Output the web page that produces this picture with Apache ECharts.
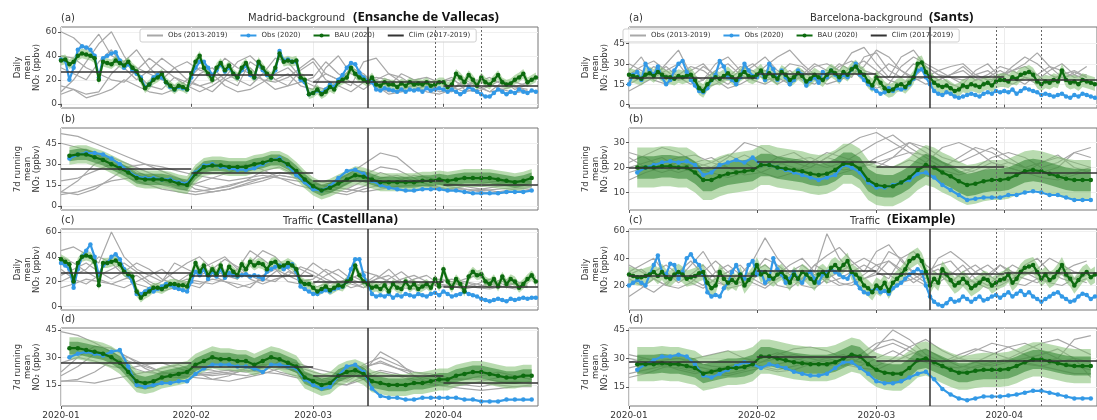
<!DOCTYPE html>
<html>
<head>
<meta charset="utf-8">
<script src="https://cdn.jsdelivr.net/npm/echarts@6/dist/echarts.min.js"></script>
<style>
  html, body { margin: 0; padding: 0; background: #fff; }
  #chart { width: 1097px; height: 420px; }
</style>
</head>
<body>
<div id="chart"></div>
<script>
// x is "days since 2020-01-01"
const monthStartDays = [0, 31, 60, 91];
const monthLabels = ['2020-01', '2020-02', '2020-03', '2020-04'];
const climBreaks = [0, 31, 60, 91, 113.5];
const eventDays = [73, 89, 100]; // 14 Mar (solid), 30 Mar and 10 Apr (dashed)

// ---- Madrid background, daily (a, left) ----
const madBgDailyBau = [
  36,37,33,35,40,42,41,40,38,20,35,34,33,36,34,32,35,30,27,20,13,16,20,22,25,18,15,12,15,14,12,
  25,35,40,30,25,20,30,34,28,32,25,22,30,34,26,22,35,30,25,22,30,42,35,36,35,36,22,20,8,
  9,12,8,10,14,12,18,20,22,30,25,22,20,18,22,16,15,18,16,16,14,17,15,18,16,17,16,18,15,16,18,
  18,14,16,25,22,18,24,20,15,22,18,16,20,24,18,16,17,20,22,25,18,20,22];
const madBgDailyObs = [
  37,36,20,30,45,48,47,45,40,22,38,40,42,43,36,30,33,28,25,22,14,16,22,24,22,18,14,12,14,13,12,
  22,30,35,35,30,24,28,33,27,30,25,22,28,32,24,22,34,28,24,22,28,44,36,37,35,35,20,18,8,
  9,11,9,12,16,14,20,24,30,34,33,26,22,19,18,12,11,13,12,11,10,12,10,12,11,12,10,13,11,12,13,
  12,10,12,10,8,10,14,12,10,8,6,6,9,12,10,8,10,9,12,10,9,11,10];
const madBgDailyGrey = [
  [60,55,45,58,40,35,30,25,20,30,35,28,25,38,30,25,20,18,22,30,38,25,20,28,22,18,15,25,20,22,18,20,15,18,22,16,14,18],
  [15,12,8,10,25,35,45,30,20,15,12,25,30,20,15,35,28,20,25,15,12,30,40,25,20,15,10,12,15,18,12,10,14,20,16,12,15,10],
  [10,20,35,50,60,40,25,15,12,22,18,15,10,20,25,30,20,12,15,18,22,35,25,18,12,20,25,22,15,10,8,12,20,15,10,18,14,12],
  [40,38,30,25,20,18,28,38,30,22,15,10,15,22,35,40,30,20,15,28,35,20,15,10,18,22,20,12,16,14,18,22,12,10,15,20,12,16],
  [8,12,5,8,12,20,15,10,8,12,20,30,25,15,10,12,18,25,30,20,15,12,18,30,25,15,8,10,12,15,10,12,18,14,10,12,9,11],
  [30,25,20,35,45,30,20,28,38,30,20,15,18,25,20,15,25,38,35,22,18,25,20,15,35,38,25,18,20,16,12,14,10,12,16,14,18,15]];
const madBgDailyClim = [27, 24, 18, 15];

// ---- Madrid background, 7-day running mean (b, left), every 2nd day from day 2 ----
const madBgRunBau = [
  36,37,37,35,33,30,27,24,20,19, 19,19,18,16,15,23,28,29,29,28,
  28,28,30,31,33,33,30,25,19,14, 11,13,16,19,22,21,19,17,17,17,
  17,17,18,18,19,18,19,20,20,20, 20,19,18,17,18,20];
const madBgRunObs = [
  34,37,38,38,37,34,30,25,21,20, 20,19,19,17,16,24,29,30,28,27,
  26,26,27,30,33,34,29,22,17,12, 11,14,20,25,26,23,18,15,13,12,
  11,11,12,12,12,11,11,10,9,9, 9,9,10,10,10,11];
const madBgRunGrey = [
  [52,50,45,40,35,30,28,25,22,20,18,20,22,20,18,16,14,12,10,12,14,15,14,12,12,11,12,13,14],
  [10,18,30,35,30,25,20,18,15,12,14,18,20,22,20,18,16,22,30,38,35,25,18,14,12,10,9,10,12],
  [10,8,12,20,28,30,25,20,12,10,12,16,20,24,22,18,12,10,14,20,22,18,15,12,14,16,18,16,14],
  [45,42,38,30,25,20,15,12,10,12,15,18,25,28,22,16,14,12,18,24,20,16,18,16,15,14,16,18,17],
  [18,20,25,30,28,22,18,14,16,20,24,30,26,20,15,12,10,16,22,28,26,20,14,12,10,12,14,15,16],
  [8,10,14,18,20,16,12,10,8,10,12,15,18,22,20,15,10,8,12,15,18,22,20,16,14,12,10,12,13]];
const madBgRunClim = [27, 24, 18, 15];

// ---- Madrid traffic, daily (c, left) ----
const madTrDailyBau = [
  38,36,34,20,35,40,41,40,36,17,35,35,36,37,34,28,26,24,12,7,10,12,15,15,14,16,18,18,17,17,16,
  25,35,28,33,25,30,26,33,25,32,28,25,34,30,36,33,35,34,30,35,36,32,33,35,33,30,20,18,18,
  15,12,14,16,13,15,17,16,20,22,33,25,20,18,15,16,14,17,12,18,15,14,20,15,18,14,16,18,15,22,16,
  30,20,15,22,18,12,24,28,25,26,20,18,22,16,24,18,22,20,15,18,22,25,20];
const madTrDailyObs = [
  35,33,30,15,30,40,45,50,40,25,33,35,40,42,38,30,25,20,10,10,12,14,12,14,16,18,17,15,14,13,12,
  20,28,25,30,22,28,24,30,23,27,25,24,25,26,24,25,24,22,28,30,32,33,30,32,34,28,16,14,12,
  10,10,12,13,12,14,15,16,20,30,38,38,25,18,10,8,9,8,10,7,9,8,10,9,8,10,9,8,10,11,9,
  12,10,8,9,10,12,10,9,8,6,5,4,5,6,5,4,6,5,6,7,6,7,7];
const madTrDailyGrey = [
  [45,48,42,35,60,40,30,25,20,28,35,40,30,25,22,35,45,40,30,22,18,25,30,22,28,25,20,18,22,25,18,16,20,18,15,20,18,16],
  [20,25,30,40,35,25,18,15,20,35,30,25,30,38,32,25,20,28,35,30,25,20,18,25,20,16,22,28,20,18,22,20,16,18,22,18,15,17],
  [30,22,18,25,30,35,28,20,15,18,22,20,18,22,30,45,38,30,25,20,22,30,25,18,15,20,18,22,25,20,15,18,22,25,20,16,18,15],
  [15,18,22,20,18,22,25,18,12,15,20,18,22,20,18,15,25,30,20,18,15,18,20,22,18,25,20,15,14,16,20,22,18,15,14,16,18,20],
  [25,30,35,28,22,28,35,30,22,18,25,30,35,40,30,22,18,22,25,32,28,22,18,20,15,22,25,18,16,20,16,18,20,16,18,22,20,18],
  [40,35,28,22,18,15,20,25,30,22,18,15,25,20,15,18,22,20,28,25,35,28,20,15,18,22,30,20,18,15,18,16,14,16,18,16,14,16]];
const madTrDailyClim = [27, 25, 20, 16];

// ---- Madrid traffic, 7-day running mean (d, left) ----
const madTrRunBau = [
  35,35,34,33,32,30,27,22,17,16, 17,19,20,21,22,26,28,30,29,29,
  28,28,26,28,30,29,27,25,19,17, 15,16,20,22,23,21,17,16,15,15,
  15,16,16,17,18,18,20,21,22,22, 21,20,19,19,20,20];
const madTrRunObs = [
  30,32,33,32,31,33,34,25,15,14, 15,16,16,17,17,21,24,26,26,26,
  25,25,24,22,26,26,25,24,18,15, 13,14,20,25,26,22,13,9,8,8,
  7,7,8,8,8,8,8,7,7,6, 6,6,7,7,7,7];
const madTrRunGrey = [
  [44,42,38,33,28,25,22,20,21,22,23,22,24,26,25,22,20,18,24,28,24,20,18,17,16,16,15,14,14],
  [20,25,32,30,25,22,21,22,24,23,21,20,22,28,27,24,22,20,26,30,26,22,20,18,18,20,22,20,18],
  [17,18,22,28,30,26,22,20,19,18,20,24,26,25,22,20,18,17,22,33,28,20,16,14,15,17,19,20,18],
  [22,30,36,35,30,24,20,19,20,21,22,24,25,22,20,18,17,19,25,27,24,22,21,19,18,18,17,16,17],
  [27,30,28,25,24,26,27,24,21,20,21,23,22,21,19,18,16,15,20,23,21,18,17,16,15,14,16,17,16],
  [17,17,16,18,20,22,24,26,22,18,17,19,21,24,23,20,16,15,18,22,20,17,15,14,13,12,13,14,15]];
const madTrRunClim = [27, 25, 20, 16];

// ---- Barcelona background, daily (a, right) ----
const bcnBgDailyBau = [
  22,21,20,19,22,23,21,24,22,20,20,19,21,20,21,22,18,12,10,15,18,20,19,21,23,20,18,22,24,21,20,
  22,25,20,23,21,19,24,22,18,20,23,21,17,19,22,20,18,22,25,23,20,24,22,26,28,24,22,17,14,
  20,16,12,10,11,14,15,13,16,20,30,31,24,20,16,14,13,14,12,10,11,14,13,15,14,13,15,16,14,17,18,
  18,17,20,19,22,23,24,22,17,15,17,16,18,17,25,18,16,17,15,18,17,16,15];
const bcnBgDailyObs = [
  15,22,24,18,30,25,22,28,20,15,18,25,30,32,24,18,14,10,9,12,18,22,32,28,20,18,15,20,30,25,21,
  20,24,18,30,26,18,25,20,15,18,25,22,14,18,20,16,24,20,25,22,18,22,20,26,30,22,18,15,12,
  10,8,9,12,10,12,11,12,15,19,25,26,20,15,10,8,7,9,8,6,5,6,7,8,7,6,8,9,8,10,9,
  10,9,11,8,10,12,11,10,9,7,8,7,6,7,8,6,5,7,6,8,7,6,5];
const bcnBgDailyGrey = [
  [25,35,20,30,40,22,18,30,35,25,20,28,35,40,30,22,18,25,38,42,30,20,35,40,28,22,20,15,25,30,20,28,35,30,22,18,24,20],
  [15,20,28,22,18,25,30,20,15,22,28,35,25,18,20,28,30,25,20,35,38,25,20,30,25,18,22,28,20,15,22,25,30,38,28,20,15,18],
  [30,25,18,15,22,28,25,18,12,15,20,25,22,30,28,20,15,18,22,28,40,35,25,20,15,18,22,25,18,20,25,20,15,22,28,25,20,22],
  [20,18,22,28,20,15,18,25,30,22,18,15,20,25,18,15,22,30,25,18,12,15,28,35,30,25,20,18,22,25,18,15,20,18,25,30,22,18],
  [10,15,20,25,30,18,12,15,20,28,25,18,20,15,22,30,25,20,28,32,25,18,15,20,28,22,15,12,18,22,28,25,20,15,18,22,25,20],
  [22,28,32,25,18,20,28,22,18,25,30,22,15,20,25,18,20,28,32,25,22,30,25,18,20,25,28,30,22,18,20,25,28,22,15,20,22,28]];
const bcnBgDailyClim = [20, 22.5, 20.5, 18];

// ---- Barcelona background, 7-day running mean (b, right) ----
const bcnBgRunBau = [
  20,20,20,20.5,20.5,20,20,18,15,15, 16.5,17.5,18,18.5,19,21,21,20,19.5,19,
  18.5,17.5,17,17.5,19,21.5,21.5,19.5,15,13, 12.5,12.5,14,16,19,21,20,18,16.5,14.5,
  13,13.5,14.5,15,15,15.5,17,18.5,19,18.5, 17.5,16.5,15.5,15,15,15];
const bcnBgRunObs = [
  18,20,21,22,22.5,22,22.5,21,17,18, 21,22,23,22,24,21,21,20,19,18,
  17,16,15,16,17,21,20,18,14,12, 12,13,14,15,17.5,18,16,13,11,9,
  7,7.5,8,8,8,9,9,10,10.5,10, 9,9,8,7,7,7];
const bcnBgRunGrey = [
  [22,25,28,26,22,20,24,30,28,24,22,20,24,28,32,34,30,26,22,28,30,27,22,20,18,22,25,20,18],
  [18,20,22,24,25,22,20,18,20,24,26,22,20,22,26,30,33,28,24,20,24,28,26,22,20,18,20,26,28],
  [26,24,20,18,20,22,25,22,18,16,18,20,24,22,20,24,27,30,28,24,22,25,28,24,20,22,24,22,20],
  [15,18,20,22,20,18,16,18,20,22,20,18,16,18,20,22,24,26,25,22,20,18,20,22,20,18,16,18,20],
  [20,22,24,20,18,20,22,25,22,20,18,22,26,24,22,20,24,30,26,22,18,20,24,26,24,20,22,26,24],
  [24,20,18,20,22,24,20,17,18,21,23,24,21,19,20,22,20,23,21,19,17,19,22,20,18,16,15,17,19]];
const bcnBgRunClim = [20, 22.3, 20.5, 17.8];

// ---- Barcelona traffic, daily (c, right) ----
const bcnTrDailyBau = [
  28,27,26,26,27,28,30,27,30,26,25,28,30,28,25,26,27,29,30,22,18,20,30,25,22,24,22,28,20,24,28,
  35,28,30,27,25,28,30,26,22,28,25,30,28,25,22,28,30,27,33,35,32,35,38,30,28,25,20,18,15,
  20,18,22,16,22,25,28,32,38,40,42,38,30,20,25,22,32,28,24,20,22,25,22,18,20,22,25,24,20,22,24,
  25,28,22,25,30,33,34,35,30,25,28,24,26,30,35,28,25,20,24,28,30,26,28];
const bcnTrDailyObs = [
  20,22,24,22,20,28,35,42,30,28,36,35,25,30,40,43,38,35,28,15,12,13,12,18,22,30,35,28,25,35,38,
  28,30,22,25,40,32,28,22,25,30,25,22,28,30,25,22,28,30,32,30,28,26,25,30,22,18,15,14,16,
  18,15,16,14,18,20,22,25,28,30,32,30,20,12,8,6,5,7,10,8,9,12,10,8,10,12,9,10,12,13,11,
  13,15,12,14,16,13,15,12,10,8,10,12,14,15,12,10,8,9,12,14,13,10,12];
const bcnTrDailyGrey = [
  [30,35,40,28,25,35,45,30,25,28,38,55,40,30,25,35,42,48,38,30,45,50,38,30,25,40,45,38,30,25,35,30,28,32,40,35,30,28],
  [20,25,30,35,28,22,18,25,30,35,25,20,28,35,40,30,22,25,30,35,30,25,40,45,35,28,22,30,35,28,22,25,35,40,30,25,22,28],
  [35,30,25,20,30,38,28,22,20,25,30,35,28,25,22,30,58,40,30,25,28,38,32,25,20,22,28,35,25,20,28,35,30,25,22,30,35,38],
  [25,20,15,22,28,25,20,30,35,28,22,18,25,30,35,28,25,20,22,28,35,38,30,22,28,32,25,20,30,35,28,22,20,25,30,28,22,25],
  [12,18,25,30,22,28,35,25,18,20,28,40,35,28,20,18,25,30,35,40,35,28,22,25,30,35,38,28,22,18,20,25,30,28,22,20,25,30],
  [28,32,25,20,18,22,30,38,30,22,25,30,20,18,25,35,30,22,20,25,30,45,40,28,22,25,30,25,22,28,35,28,25,22,28,32,25,22]];
const bcnTrDailyClim = [27.5, 31, 28.5, 29];

// ---- Barcelona traffic, 7-day running mean (d, right) ----
const bcnTrRunBau = [
  27,27,27,27.5,27,27,26,25,22,23, 24,25,25,25.5,27,31,31,30,29,28,
  27.5,27,27,27,28,30,32,31,27,24, 22.5,22,22,25,29,30,28,26,24,22.5,
  22.5,23.5,24,24,24,24.5,26,28,29.5,29.5, 28.5,27.5,26.5,26,26,26];
const bcnTrRunObs = [
  24,27,29,31,31,32,31,27,21,20, 22,24,26,28,27,25,27,26,25,23,
  22,21,21,22,25,28,28,25,22,18, 17,17,18,20,22,23,19,14,11,9,
  8,9,10,10,10,10.5,11,12,13,13, 12,11,10,9,9,9];
const bcnTrRunGrey = [
  [30,28,26,28,30,32,34,30,28,32,35,36,34,30,28,36,45,40,32,28,30,34,38,36,32,28,30,40,42],
  [25,27,29,30,28,26,25,28,30,33,30,28,26,28,32,38,40,36,30,28,32,35,33,30,34,38,40,36,32],
  [20,22,25,27,26,24,22,24,28,30,32,30,28,26,30,35,38,34,30,26,25,28,32,36,38,34,30,26,24],
  [28,30,27,24,22,24,26,28,26,24,26,28,30,32,28,26,30,36,40,34,30,28,26,28,30,32,35,30,20],
  [22,24,26,25,23,22,24,26,25,23,24,27,29,27,25,24,28,32,35,30,26,25,27,29,27,26,28,30,28],
  [32,30,28,26,24,22,21,23,25,27,29,31,30,28,26,30,34,30,28,25,23,26,28,30,28,26,24,22,22]];
const bcnTrRunClim = [28, 31, 29, 29];

// band half-widths around BAU: [outer, inner] for running means, [single] for daily
const bandHalfWidths = [[4], [6.5, 4], [4], [6, 3.5], [5], [8, 4.5], [6], [9, 5]];

const ticksDaily60 = [0, 20, 40, 60];
const ticks45 = [0, 15, 30, 45];
const ticks45no0 = [15, 30, 45];
const ticks10to30 = [10, 20, 30];
const ticks20to60 = [20, 40, 60];

const DAILY = 'Daily\nmean\nNO\u2082 (ppbv)';
const RUN = '7d running\nmean\nNO\u2082 (ppbv)';

const panels = [
  {bau: madBgDailyBau, obs: madBgDailyObs, grey: madBgDailyGrey, clim: madBgDailyClim, start: 0, step: 1, gStep: 3, ymin: -3.5, ymax: 64, ticks: ticksDaily60, name: DAILY},
  {bau: madBgRunBau, obs: madBgRunObs, grey: madBgRunGrey, clim: madBgRunClim, start: 2, step: 2, gStep: 4, ymin: -3, ymax: 56, ticks: ticks45, name: RUN},
  {bau: madTrDailyBau, obs: madTrDailyObs, grey: madTrDailyGrey, clim: madTrDailyClim, start: 0, step: 1, gStep: 3, ymin: -3, ymax: 62.5, ticks: ticksDaily60, name: DAILY},
  {bau: madTrRunBau, obs: madTrRunObs, grey: madTrRunGrey, clim: madTrRunClim, start: 2, step: 2, gStep: 4, ymin: 3.5, ymax: 46, ticks: ticks45no0, name: RUN},
  {bau: bcnBgDailyBau, obs: bcnBgDailyObs, grey: bcnBgDailyGrey, clim: bcnBgDailyClim, start: 0, step: 1, gStep: 3, ymin: -2.5, ymax: 57, ticks: ticks45, name: DAILY},
  {bau: bcnBgRunBau, obs: bcnBgRunObs, grey: bcnBgRunGrey, clim: bcnBgRunClim, start: 2, step: 2, gStep: 4, ymin: 3, ymax: 35.8, ticks: ticks10to30, name: RUN},
  {bau: bcnTrDailyBau, obs: bcnTrDailyObs, grey: bcnTrDailyGrey, clim: bcnTrDailyClim, start: 0, step: 1, gStep: 3, ymin: 2, ymax: 61.5, ticks: ticks20to60, name: DAILY},
  {bau: bcnTrRunBau, obs: bcnTrRunObs, grey: bcnTrRunGrey, clim: bcnTrRunClim, start: 2, step: 2, gStep: 4, ymin: 5, ymax: 46, ticks: ticks45no0, name: RUN}
];

const FONT = '"DejaVu Sans", sans-serif';
const rowTops = [27, 128, 229, 328];
const rowH = [81, 82, 81, 79];
const colLeft = [61, 629];
const plotW = 477;

const GREY = 'Obs (2013-2019)', OBS = 'Obs (2020)', BAU = 'BAU (2020)', CLIM = 'Clim (2017-2019)';
const bandColors = {outer: 'rgba(128,190,112,0.55)', inner: 'rgba(44,128,44,0.55)', daily: 'rgba(128,190,112,0.55)'};

const grids = [], xAxes = [], yAxes = [], series = [];

panels.forEach((p, i) => {
  const col = i < 4 ? 0 : 1, row = i % 4;
  grids.push({left: colLeft[col], top: rowTops[row], width: plotW, height: rowH[row],
    show: true, borderColor: '#777', borderWidth: 1, backgroundColor: 'transparent'});
  xAxes.push({type: 'value', gridIndex: i, min: 0, max: 113.5,
    axisLine: {show: false},
    axisTick: {show: true, customValues: monthStartDays, length: 3, lineStyle: {color: '#555'}},
    axisLabel: {show: row === 3, customValues: monthStartDays, fontSize: 9, color: '#333', margin: 5, fontFamily: FONT,
      formatter: v => monthLabels[monthStartDays.indexOf(v)] || ''},
    splitLine: {show: true, lineStyle: {color: '#ececec', width: 1}}});
  yAxes.push({type: 'value', gridIndex: i, min: p.ymin, max: p.ymax,
    axisLine: {show: false},
    axisTick: {show: true, customValues: p.ticks, length: 3, lineStyle: {color: '#555'}},
    axisLabel: {customValues: p.ticks, fontSize: 9, color: '#444', margin: 4, fontFamily: FONT},
    splitLine: {show: true, lineStyle: {color: '#f0f0f0', width: 1}},
    name: p.name, nameLocation: 'middle', nameRotate: 90, nameGap: 19,
    nameTextStyle: {fontSize: 8.5, lineHeight: 9.5, color: '#333', fontFamily: FONT}});

  const ax = {xAxisIndex: i, yAxisIndex: i, animation: false};
  const xAt = k => p.start + k * p.step;

  p.grey.forEach(g => series.push(Object.assign({}, ax, {
    type: 'line', name: GREY, data: g.map((v, k) => [k * p.gStep, v]), symbol: 'none', silent: true,
    lineStyle: {color: '#a8a8a8', width: 1.2}, itemStyle: {color: '#a8a8a8'}, z: 1})));

  // uncertainty bands around BAU, drawn as polygons through the axis scales
  const widths = bandHalfWidths[i];
  widths.forEach((w, b) => {
    const color = widths.length === 1 ? bandColors.daily : (b === 0 ? bandColors.outer : bandColors.inner);
    series.push(Object.assign({}, ax, {type: 'custom', silent: true, z: 2, clip: true, data: [[0, 0]],
      renderItem: (params, api) => {
        const upper = p.bau.map((v, k) => api.coord([xAt(k), v + w]));
        const lower = p.bau.map((v, k) => api.coord([xAt(k), v - w])).reverse();
        return {type: 'polygon', shape: {points: upper.concat(lower)}, style: {fill: color}};
      }}));
  });

  series.push(Object.assign({}, ax, {type: 'line', name: OBS, z: 3, silent: true,
    data: p.obs.map((v, k) => [xAt(k), v]), symbol: 'circle', symbolSize: 4.5, showSymbol: true,
    lineStyle: {color: '#3399e6', width: 2.2}, itemStyle: {color: '#3399e6'}}));
  series.push(Object.assign({}, ax, {type: 'line', name: BAU, z: 4, silent: true,
    data: p.bau.map((v, k) => [xAt(k), v]), symbol: 'circle', symbolSize: 4.5, showSymbol: true,
    lineStyle: {color: '#0d6b0f', width: 2.2}, itemStyle: {color: '#0d6b0f'}}));

  series.push(Object.assign({}, ax, {type: 'line', name: CLIM, data: [], z: 5,
    lineStyle: {color: '#333', width: 1.5}, itemStyle: {color: '#333'}, symbol: 'none',
    markLine: {silent: true, symbol: 'none', animation: false, label: {show: false},
      lineStyle: {color: '#333', width: 1.5, type: 'solid'},
      data: p.clim.map((c, m) => [{coord: [climBreaks[m], c]}, {coord: [climBreaks[m + 1], c]}])}}));

  series.push(Object.assign({}, ax, {type: 'line', name: 'events' + i, data: [], z: 6,
    markLine: {silent: true, symbol: 'none', animation: false, label: {show: false},
      data: eventDays.map((d, k) => ({xAxis: d,
        lineStyle: k === 0 ? {color: '#333', width: 1.5, type: 'solid'} : {color: '#666', width: 1, type: [2, 2]}}))}}));
});

function legendAt(left) {
  return {left: left, top: 29, orient: 'horizontal', itemWidth: 16, itemHeight: 5, itemGap: 12,
    padding: [3, 6], borderColor: '#cfcfcf', borderWidth: 1, borderRadius: 2,
    backgroundColor: 'rgba(255,255,255,0.85)', selectedMode: false,
    textStyle: {fontSize: 7, color: '#333', fontFamily: FONT},
    data: [{name: GREY, itemStyle: {opacity: 0}}, OBS, BAU, {name: CLIM, itemStyle: {opacity: 0}}]};
}

function txt(x, y, text, opts) {
  return {type: 'text', x: x, y: y, z: 100, silent: true,
    style: Object.assign({text: text, fill: '#333', fontSize: 10, fontFamily: FONT, textVerticalAlign: 'middle'}, opts || {})};
}
const BOLD = {fontFamily: '"Open Sans", "Noto Sans", sans-serif', fontWeight: 'bold', fontSize: 13, fill: '#111'};

const graphics = [];
['(a)', '(b)', '(c)', '(d)'].forEach((t, r) => {
  const y = rowTops[r] - 9;
  graphics.push(txt(colLeft[0], y, t), txt(colLeft[1], y, t));
});
graphics.push(
  txt(248, 18, 'Madrid-background'),
  txt(353, 17, '(Ensanche de Vallecas)', BOLD),
  txt(810, 18, 'Barcelona-background'),
  txt(929, 17, '(Sants)', BOLD),
  txt(283, 221, 'Traffic'),
  txt(317, 219, '(Castelllana)', BOLD),
  txt(850, 221, 'Traffic'),
  txt(887, 219, '(Eixample)', BOLD)
);

const chart = echarts.init(document.getElementById('chart'), null, {renderer: 'canvas'});
chart.setOption({
  animation: false,
  backgroundColor: '#fff',
  textStyle: {fontFamily: FONT},
  grid: grids,
  xAxis: xAxes,
  yAxis: yAxes,
  legend: [legendAt(140), legendAt(623)],
  graphic: graphics,
  series: series
});
</script>
</body>
</html>
